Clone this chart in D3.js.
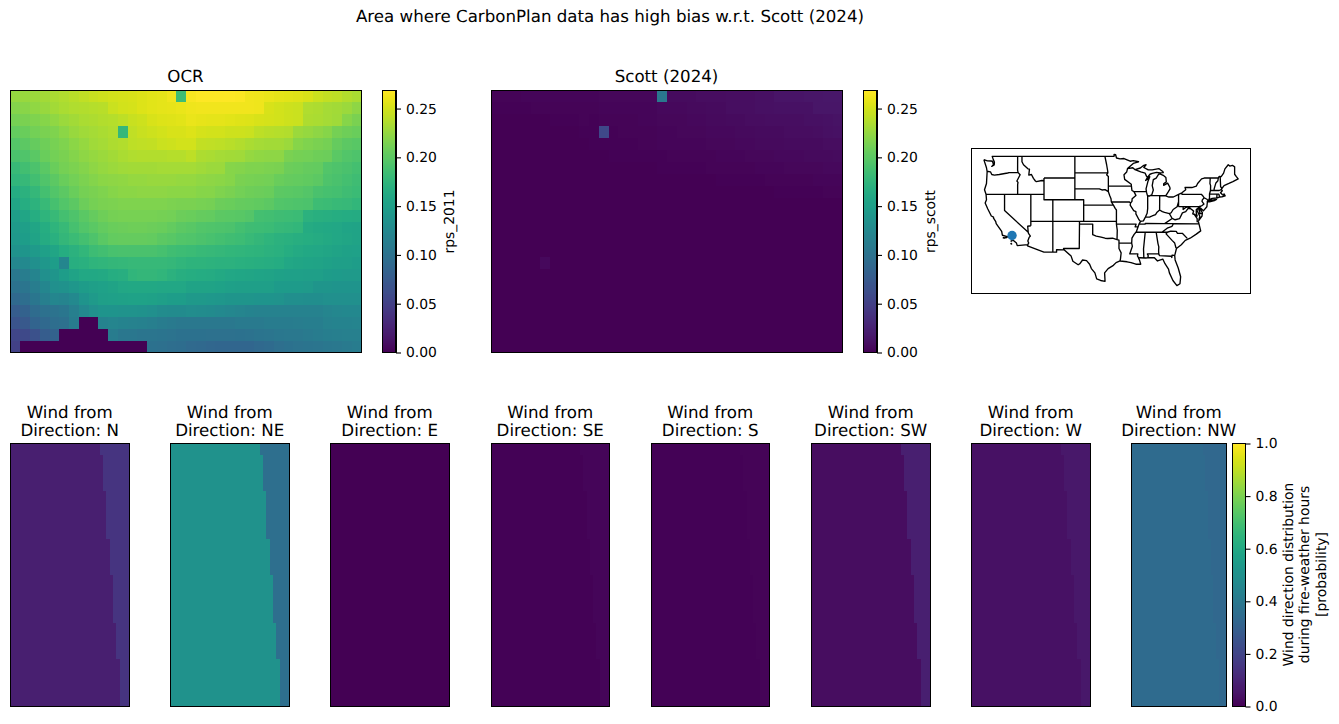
<!DOCTYPE html>
<html>
<head>
<meta charset="utf-8">
<script src="https://cdn.jsdelivr.net/npm/d3@7"></script>
<style>
  html, body { margin: 0; padding: 0; background: #fff; }
  text { font-family: "DejaVu Sans", sans-serif; fill: #000; text-rendering: geometricPrecision; }
</style>
</head>
<body>
<svg id="fig" width="1339" height="724"></svg>
<script>
// Return-period-style fields on a 22 x 36 grid, in thousandths.
const rps2011 = [
  [226,227,228,231,234,236,240,243,246,248,250,251,252,254,256,258,262,184,266,268,268,268,268,267,263,262,260,258,256,255,252,247,244,242,238,234],
  [219,221,224,227,231,234,236,238,239,240,247,250,251,254,256,258,259,260,262,263,263,263,263,263,263,262,252,250,248,247,236,235,232,231,228,223],
  [212,215,217,220,224,228,231,234,235,238,239,242,246,248,252,254,255,256,260,259,258,258,256,255,254,252,251,250,248,247,235,234,232,230,220,215],
  [204,207,211,215,217,222,227,230,232,234,236,179,243,246,248,250,252,252,254,251,250,250,248,248,247,242,240,239,238,228,226,223,220,212,209,207],
  [197,201,205,209,213,217,222,226,230,232,235,238,242,243,244,247,248,250,250,244,243,242,240,238,234,232,231,231,228,220,217,215,212,205,201,199],
  [191,195,200,207,211,215,219,223,226,228,231,234,236,238,238,238,239,239,242,235,234,232,231,230,226,224,223,223,215,212,211,209,208,200,196,193],
  [181,187,192,200,207,212,216,219,223,226,228,230,231,231,231,232,232,232,232,230,228,228,220,219,217,217,216,215,208,207,205,204,196,193,191,188],
  [176,180,187,195,201,207,211,216,219,222,223,224,226,226,227,227,227,226,226,224,223,222,220,215,213,212,211,207,205,204,203,201,193,191,188,185],
  [165,172,179,188,196,201,207,212,215,217,220,222,222,223,223,223,222,222,222,220,220,217,215,211,209,208,207,201,200,199,197,191,189,188,185,183],
  [158,166,173,181,189,196,201,208,212,215,216,217,217,217,217,217,216,215,215,213,212,208,207,205,204,203,201,196,195,193,192,184,183,181,180,177],
  [149,158,166,175,181,188,193,200,205,209,212,213,213,213,213,212,211,208,207,205,204,201,200,199,197,188,187,185,184,183,171,169,168,166,165,164],
  [145,150,158,166,175,181,189,196,200,204,207,208,209,209,208,207,204,201,199,196,195,193,192,188,185,184,183,180,179,177,164,162,161,160,157,156],
  [143,148,156,164,170,178,183,188,193,200,204,205,205,205,204,201,199,196,195,192,190,188,186,184,181,178,175,172,170,168,166,164,162,160,158,156],
  [137,140,145,152,158,166,171,177,184,187,190,191,191,191,191,189,186,184,183,181,180,179,177,176,175,174,172,170,166,163,161,160,158,156,154,153],
  [124,126,134,142,148,123,168,170,175,176,178,179,180,180,180,180,179,176,174,174,173,172,171,170,169,168,167,165,160,158,157,156,154,151,150,148],
  [107,113,121,134,140,148,156,161,161,162,166,168,176,178,178,176,172,168,166,165,164,162,160,159,158,157,156,154,152,152,151,150,147,146,145,145],
  [101,104,113,123,134,137,142,147,150,153,156,160,161,161,161,160,160,160,156,156,156,155,152,150,150,150,150,146,146,146,145,140,140,139,139,139],
  [91,96,105,115,123,121,126,139,145,150,152,154,155,155,154,150,148,148,144,144,143,142,140,140,140,139,139,138,133,133,132,132,134,134,134,134],
  [78,83,94,99,102,105,115,126,134,139,139,138,138,136,134,130,128,128,131,130,128,126,124,122,120,119,118,118,118,118,118,118,122,124,125,125],
  [70,74,86,91,96,98,112,0,0,120,122,120,118,117,115,112,110,108,108,108,107,107,107,110,110,110,112,112,112,113,114,114,118,120,120,121],
  [56,59,67,78,83,0,0,0,0,0,112,106,106,104,104,103,102,100,100,100,99,99,99,100,101,103,104,106,107,108,110,112,114,115,116,116],
  [52,0,0,0,0,0,0,0,0,0,0,0,0,0,100,98,96,95,92,91,89,88,88,88,88,91,93,97,100,102,103,104,106,108,110,112]
];
const rpsScott = [
  [3,3,3,4,4,4,4,4,4,4,4,5,5,5,5,5,5,107,8,8,8,9,9,9,10,10,10,11,11,14,14,14,15,15,16,16],
  [2,2,2,2,3,3,3,3,3,3,3,4,4,4,4,4,4,6,6,6,7,7,8,8,10,10,10,11,11,12,12,12,12,15,15,15],
  [1,1,1,1,1,1,2,2,2,3,2,3,3,3,3,4,4,5,5,5,6,6,7,7,8,8,9,9,10,10,10,10,11,11,12,13],
  [1,1,1,1,1,1,1,1,1,2,2,58,2,3,3,3,3,4,4,5,5,5,6,6,6,7,7,8,8,8,9,9,9,10,11,12],
  [0,0,0,0,1,1,1,1,1,1,2,2,2,2,2,3,3,4,4,4,4,4,5,5,5,6,6,7,7,7,8,8,8,8,9,9],
  [0,0,0,0,0,0,0,0,1,1,1,1,2,2,2,2,2,2,3,3,3,3,3,4,4,4,5,5,5,6,6,6,7,7,7,8],
  [0,0,0,0,0,0,0,0,0,0,0,0,1,1,1,1,1,2,2,2,2,2,3,3,3,3,3,4,4,4,5,5,5,5,6,6],
  [0,0,0,0,0,0,0,0,0,0,0,0,0,0,0,0,0,0,0,1,1,1,1,2,2,2,2,2,3,3,3,3,3,4,4,4],
  [0,0,0,0,0,0,0,0,0,0,0,0,0,0,0,0,0,0,0,0,0,0,0,1,1,1,1,1,1,2,2,2,2,2,3,3],
  [0,0,0,0,0,0,0,0,0,0,0,0,0,0,0,0,0,0,0,0,0,0,0,0,0,0,0,0,1,1,1,1,1,1,1,1],
  [0,0,0,0,0,0,0,0,0,0,0,0,0,0,0,0,0,0,0,0,0,0,0,0,0,0,0,0,0,0,0,0,1,1,1,1],
  [0,0,0,0,0,0,0,0,0,0,0,0,0,0,0,0,0,0,0,0,0,0,0,0,0,0,0,0,0,0,0,0,0,0,0,0],
  [0,0,0,0,0,0,0,0,0,0,0,0,0,0,0,0,0,0,0,0,0,0,0,0,0,0,0,0,0,0,0,0,0,0,0,0],
  [0,0,0,0,0,0,0,0,0,0,0,0,0,0,0,0,0,0,0,0,0,0,0,0,0,0,0,0,0,0,0,0,0,0,0,0],
  [0,0,0,0,0,6,0,0,0,0,0,0,0,0,0,0,0,0,0,0,0,0,0,0,0,0,0,0,0,0,0,0,0,0,0,0],
  [0,0,0,0,0,0,0,0,0,0,0,0,0,0,0,0,0,0,0,0,0,0,0,0,0,0,0,0,0,0,0,0,0,0,0,0],
  [0,0,0,0,0,0,0,0,0,0,0,0,0,0,0,0,0,0,0,0,0,0,0,0,0,0,0,0,0,0,0,0,0,0,0,0],
  [0,0,0,0,0,0,0,0,0,0,0,0,0,0,0,0,0,0,0,0,0,0,0,0,0,0,0,0,0,0,0,0,0,0,0,0],
  [0,0,0,0,0,0,0,0,0,0,0,0,0,0,0,0,0,0,0,0,0,0,0,0,0,0,0,0,0,0,0,0,0,0,0,0],
  [0,0,0,0,0,0,0,0,0,0,0,0,0,0,0,0,0,0,0,0,0,0,0,0,0,0,0,0,0,0,0,0,0,0,0,0],
  [0,0,0,0,0,0,0,0,0,0,0,0,0,0,0,0,0,0,0,0,0,0,0,0,0,0,0,0,0,0,0,0,0,0,0,0],
  [0,0,0,0,0,0,0,0,0,0,0,0,0,0,0,0,0,0,0,0,0,0,0,0,0,0,0,0,0,0,0,0,0,0,0,0]
];
const rpsMax = 0.2685;
const rpsTicks = [0, 0.05, 0.10, 0.15, 0.20, 0.25];

// Wind-direction probabilities: two climatology regions split along a per-row column.
const directions = ["N", "NE", "E", "SE", "S", "SW", "W", "NW"];
const windWest = [0.085, 0.51, 0.002, 0.005, 0.004, 0.035, 0.045, 0.345];
const windEast = [0.150, 0.36, 0.002, 0.015, 0.010, 0.085, 0.065, 0.335];
const windSplitColumn = [27,28,28,28,29,29,29,29,30,30,30,31,31,31,31,32,32,32,33,33,33,33];
const windTicks = [0, 0.2, 0.4, 0.6, 0.8, 1.0];

// Map location and lower-48 line work, as [lon, lat] vertices.
const siteLocation = [-118.3, 34.4];
const mapExtentLon = [-127.5, -64.2];
const mapExtentLat = [23.7, 50.45];
const nationOutline = [
  [-124.7,48.4],[-123.9,48.17],[-123.1,48.15],[-122.75,48.1],[-122.5,47.5],[-122.9,47.15],[-122.35,47.4],[-122.3,47.95],[-122.55,48.4],[-122.8,49],
  [-95.15,49],[-95.15,49.38],[-94.8,49.3],[-94.6,48.7],[-93.8,48.55],[-92.9,48.6],[-91.5,48.1],[-90.8,48.2],[-89.6,48],
  [-90.8,47.7],[-92.1,46.75],[-90.9,46.9],[-90.4,46.55],[-89.2,46.85],[-88.4,47.35],[-87.9,47.45],[-88.4,46.95],[-87.4,46.5],[-86.5,46.5],[-85,46.75],[-84.5,46.45],[-84.1,46.2],[-84,46],
  [-84.7,45.95],[-85.5,46.05],[-86.5,45.85],[-87,45.7],[-87.6,45.1],[-88,44.55],[-87.4,44.9],[-87.05,45.25],[-87.5,44.3],[-87.9,43],[-87.8,42.4],[-87.6,41.8],[-87.2,41.65],[-86.6,41.9],
  [-86.25,42.8],[-86.5,43.6],[-86.25,44.7],[-85.6,45],[-85,45.75],[-84.75,45.78],[-84,45.5],[-83.4,45.1],[-83.3,44.3],[-83.9,43.95],[-83.9,43.65],[-83,44.05],[-82.5,43.3],[-82.45,43],[-82.9,42.4],[-83.15,42.1],[-83.45,41.72],
  [-82.7,41.5],[-81.7,41.5],[-80.5,41.97],[-79.76,42.27],[-78.9,42.85],[-79.05,43.27],[-77.5,43.25],[-76.5,43.5],[-76.2,44],[-75.3,44.85],[-74.7,45],
  [-71.5,45.01],[-71.3,45.3],[-70.85,45.25],[-70.3,45.9],[-70,46.7],[-69.25,47.45],[-68.9,47.2],[-68.3,47.35],[-67.8,47.07],[-67.8,45.7],[-67.45,45.3],[-67,44.85],
  [-68.2,44.35],[-69.1,44],[-70.2,43.6],[-70.7,43.07],[-70.8,42.85],[-70.6,42.65],[-71,42.3],[-70.6,41.95],[-70.05,41.8],[-70.2,42.07],[-69.95,41.7],[-70.65,41.55],[-71.2,41.5],[-71.4,41.45],[-71.85,41.32],[-72.9,41.25],[-73.65,40.98],[-74,40.7],
  [-74,40.45],[-74.1,39.7],[-74.9,38.95],[-75.55,39.5],[-75.4,39],[-75.1,38.6],[-75.2,38],[-75.95,37.15],[-75.7,37.95],[-76.2,38.8],[-76,39.5],[-76.5,39.2],[-76.5,38.5],[-76.3,38],[-77,38.35],[-76.3,37.5],[-76.3,36.95],[-76,36.9],
  [-75.5,35.25],[-76.5,34.65],[-77.9,33.9],[-79,33.5],[-79.9,32.7],[-81,32],[-81.4,30.7],[-81.3,29.9],[-80.6,28.4],[-80.05,26.8],[-80.2,25.5],[-80.9,25.15],[-81.8,26.1],[-82.6,27.5],[-82.8,28.2],[-83.6,29.2],[-84.1,30.05],[-85.3,29.7],[-86,30.3],[-87.5,30.3],
  [-88,30.25],[-89.3,30.3],[-89.6,30.2],[-89.4,29.9],[-89.1,29.1],[-90.2,29.1],[-91.3,29.4],[-92.2,29.55],[-93.8,29.7],[-94.7,29.4],[-95.3,28.9],[-96.5,28.3],[-97.3,27.5],[-97.2,25.95],
  [-98.2,26.1],[-99.1,26.4],[-99.5,27.5],[-100.3,28.3],[-100.7,29.1],[-101.4,29.77],[-102.3,29.88],[-102.9,29.2],[-103.3,29],[-104.5,29.65],[-104.9,30.6],[-106.5,31.75],
  [-108.2,31.78],[-108.2,31.33],[-111.07,31.33],[-114.8,32.5],[-114.72,32.72],[-117.12,32.53],
  [-117.3,33],[-118.4,33.75],[-118.5,34.03],[-119.2,34.15],[-120.5,34.45],[-120.65,35.15],[-121.9,36.6],[-122,36.95],[-122.5,37.6],[-122.5,37.8],[-123,38],[-123.8,39.3],[-124.4,40.4],[-124.1,41],[-124.2,42],[-124.55,42.85],[-124.1,44],[-123.95,46.2],[-124.1,46.9],[-124.7,48.4]
];
const islands = [
  [[-74,40.6],[-73.5,40.6],[-72.4,40.85],[-71.9,41.05],[-72.6,40.98],[-73.7,40.85],[-74,40.6]],
  [[-119.9,34.05],[-119.5,34.03],[-119.9,33.98],[-119.9,34.05]],
  [[-120.4,34],[-120.05,34.02],[-120.1,33.9],[-120.4,34]],
  [[-118.6,33.47],[-118.35,33.4],[-118.5,33.35],[-118.6,33.47]],
  [[-118.6,33.03],[-118.4,32.85],[-118.5,32.82],[-118.6,33.03]]
];
const stateBorders = [
  [[-124,46.25],[-123.2,46.15],[-122.9,45.65],[-122.3,45.55],[-121.2,45.65],[-119.3,45.93],[-118.98,46],[-116.92,46]],
  [[-117.03,49],[-117.04,46.42],[-116.92,46],[-116.47,45.6],[-117.2,44.45],[-116.95,44.2],[-117.03,43.8],[-117.03,42]],
  [[-124.2,42],[-111.05,42]],
  [[-120,42],[-120,39],[-114.63,35],[-114.57,34.8],[-114.14,34.3],[-114.43,34.05],[-114.72,33.4],[-114.52,33.03],[-114.72,32.72]],
  [[-114.63,35],[-114.75,36.1],[-114.04,36.2]],
  [[-114.04,42],[-114.04,36.2]],
  [[-114.04,37],[-94.62,37]],
  [[-109.05,41],[-109.05,31.33]],
  [[-111.05,45],[-104.05,45],[-104.05,41],[-111.05,41],[-111.05,45]],
  [[-116.05,49],[-116.05,48],[-115.7,47.45],[-114.7,46.7],[-114.35,46.65],[-114.5,45.55],[-113.9,45.65],[-113.45,44.95],[-113,44.45],[-112.8,44.35],[-111.5,44.55],[-111.05,44.5]],
  [[-104.05,49],[-104.05,45]],
  [[-104.05,45.94],[-96.56,45.94]],
  [[-104.05,43],[-98.5,43],[-97.9,42.8],[-97.2,42.85],[-96.45,42.49]],
  [[-104.05,41],[-102.05,41],[-102.05,37]],
  [[-102.05,40],[-95.3,40]],
  [[-103,37],[-103,36.5],[-100,36.5],[-100,34.56],[-99.2,34.3],[-98.1,34.1],[-97.2,33.9],[-96.6,33.85],[-95.5,33.9],[-94.48,33.64],[-94.04,33.55],[-94.04,31.99],[-93.55,31.2],[-93.7,30.1],[-93.8,29.7]],
  [[-103,36.5],[-103.05,32],[-106.62,32],[-106.5,31.75]],
  [[-94.04,33.02],[-91.16,33]],
  [[-94.48,33.64],[-94.43,35.4],[-94.62,36.5],[-94.62,39.1],[-94.9,39.4],[-95.3,40],[-95.77,40.58],[-95.85,41.2],[-96.1,41.7],[-96.45,42.49],[-96.45,45.3],[-96.85,45.6],[-96.56,45.94],[-96.6,46.3],[-96.85,47.5],[-97.23,49]],
  [[-96.45,43.5],[-91.22,43.5]],
  [[-95.77,40.58],[-91.73,40.61],[-91.42,40.38]],
  [[-92.1,46.75],[-92.3,46.1],[-92.9,45.6],[-92.75,44.75],[-91.25,43.85],[-91.22,43.5],[-91.1,42.7],[-90.64,42.5],[-90.2,41.8],[-91.05,41.2],[-91.1,40.7],[-91.42,40.38],[-91.5,40],[-90.7,39],[-90.2,38.8],[-90.2,38.4],[-89.5,37.3],[-89.15,37],[-89.5,36.5],[-89.7,36],[-90.1,35.1],[-90.6,34.6],[-91.1,33.9],[-91.16,33],[-91,32.4],[-91.6,31],[-89.75,31],[-89.85,30.65],[-89.55,30.2]],
  [[-90.64,42.5],[-87.8,42.5]],
  [[-90.4,46.55],[-89.1,46.13],[-88.1,45.9],[-87.8,45.35],[-87.6,45.1]],
  [[-87.53,41.7],[-87.53,39.35],[-87.65,38.5],[-88.05,37.8]],
  [[-89.15,37],[-88.5,37.1],[-88.05,37.8],[-87.1,37.8],[-86.5,38],[-85.75,38.27],[-85.4,38.7],[-84.82,39.1],[-84.2,38.8],[-83.7,38.65],[-82.6,38.42],[-82.2,38.6],[-81.75,39.2],[-80.85,39.7],[-80.52,40.64]],
  [[-84.82,39.1],[-84.8,41.76]],
  [[-86.8,41.76],[-84.8,41.76],[-83.45,41.73]],
  [[-80.52,41.98],[-80.52,39.72]],
  [[-80.52,39.72],[-75.79,39.72]],
  [[-79.76,42.27],[-79.76,42],[-75.35,42],[-75.05,41.75],[-74.7,41.36],[-73.9,41]],
  [[-74.7,41.36],[-75.13,40.97],[-75.2,40.68],[-74.75,40.2],[-75.4,39.8]],
  [[-75.79,39.72],[-75.6,39.83],[-75.4,39.8]],
  [[-75.79,39.72],[-75.7,38.46],[-75.05,38.45]],
  [[-79.48,39.72],[-79.48,39.2],[-78.8,39.6],[-78.2,39.67],[-77.75,39.32],[-77.1,38.9],[-77.3,38.4],[-76.9,38.25],[-76.3,37.95]],
  [[-77.75,39.32],[-78.35,39.4],[-78.9,38.8],[-79.65,38.58],[-80.3,37.5],[-81.3,37.3],[-81.97,37.54],[-82.6,38.42]],
  [[-81.97,37.54],[-83.67,36.6],[-88.07,36.65],[-88.07,36.5],[-89.5,36.5]],
  [[-83.67,36.6],[-81.68,36.59],[-75.87,36.55]],
  [[-81.68,36.59],[-82,36.1],[-83.1,35.75],[-84.3,35]],
  [[-84.3,35],[-90.1,35]],
  [[-84.3,35],[-83.1,35],[-82.3,35.2],[-81.05,35.15],[-80.8,34.82],[-79.67,34.8],[-78.55,33.87]],
  [[-83.1,35],[-83.35,34.7],[-82,33.5],[-81.4,33],[-81.1,32.1]],
  [[-85.6,34.98],[-85.18,32.87],[-85,32.3],[-85.05,31.55],[-85,31]],
  [[-85,31],[-87.6,31],[-87.4,30.65],[-87.5,30.3]],
  [[-85,31],[-84.86,30.7],[-82.2,30.57],[-82.05,30.35],[-82,30.75],[-81.5,30.72]],
  [[-88.2,35],[-88.1,34.9],[-88.47,31.9],[-88.4,30.3]],
  [[-94.62,36.5],[-90.15,36.5],[-90.37,36],[-89.7,36]],
  [[-71.5,45.01],[-71.6,44.5],[-72.05,44.1],[-72.45,43],[-72.46,42.73]],
  [[-73.34,45.01],[-73.4,44],[-73.25,43.6],[-73.27,42.75],[-73.5,42.05],[-73.5,41.3],[-73.65,41]],
  [[-73.27,42.75],[-71.3,42.7],[-70.85,42.87]],
  [[-73.5,42.05],[-71.8,42.02],[-71.38,42.02],[-71.2,41.5]],
  [[-71.8,42.02],[-71.85,41.32]],
  [[-71.08,45.3],[-70.98,43.4],[-70.7,43.07]]
];

const svg = d3.select("#fig");
const rowIndex = d3.range(22);
const colIndex = d3.range(36);
const TICK = 5, PAD = 5, SPINE = 1.1;

function addFrame(x0, y0, x1, y1) {
  svg.append("rect").attr("x", x0).attr("y", y0)
    .attr("width", x1 - x0).attr("height", y1 - y0)
    .attr("fill", "none").attr("stroke", "#000").attr("stroke-width", SPINE)
    .attr("shape-rendering", "crispEdges");
}

function addGrid(box, fieldAt, colour) {
  const x = d3.scaleBand().domain(colIndex).range([box.x0, box.x1]);
  const y = d3.scaleBand().domain(rowIndex).range([box.y0, box.y1]);
  const g = svg.append("g").attr("shape-rendering", "crispEdges");
  rowIndex.forEach(r => {
    g.selectAll(null).data(colIndex).join("rect")
      .attr("x", c => x(c)).attr("y", y(r))
      .attr("width", x.bandwidth() + 0.5).attr("height", y.bandwidth() + 0.5)
      .attr("fill", c => colour(fieldAt(r, c)));
  });
  addFrame(box.x0, box.y0, box.x1, box.y1);
}

function addColorbar(box, domain, ticks, fmt, colour) {
  const y = d3.scaleLinear().domain(domain).range([box.y1, box.y0]);
  const steps = d3.range(256);
  const step = d3.scaleLinear().domain([0, 256]).range(domain);
  const g = svg.append("g").attr("shape-rendering", "crispEdges");
  g.selectAll("rect").data(steps).join("rect")
    .attr("x", box.x0).attr("width", box.x1 - box.x0)
    .attr("y", s => y(step(s + 1))).attr("height", s => y(step(s)) - y(step(s + 1)) + 0.5)
    .attr("fill", s => colour(step(s + 0.5)));
  addFrame(box.x0, box.y0, box.x1, box.y1);
  const axis = d3.axisRight(y).tickValues(ticks).tickFormat(d3.format(fmt))
    .tickSize(TICK).tickPadding(PAD);
  const a = svg.append("g").attr("transform", `translate(${box.x1},0)`).call(axis);
  a.select(".domain").remove();
  a.selectAll("line").attr("stroke", "#000").attr("stroke-width", SPINE);
  a.selectAll("text").attr("font-size", 13.9).attr("fill", "#000");
}

function addText(str, x, y, size, rotate) {
  const t = svg.append("text").text(str).attr("font-size", size).attr("text-anchor", "middle");
  if (rotate) t.attr("transform", `translate(${x},${y}) rotate(-90)`).attr("dominant-baseline", "middle");
  else t.attr("x", x).attr("y", y);
}

addText("Area where CarbonPlan data has high bias w.r.t. Scott (2024)", 610, 22, 16.67);

// Top row: the two rps fields with their colour bars.
const rpsColour = d3.scaleSequential(d3.interpolateViridis).domain([0, rpsMax]);
const topPanels = [
  { title: "OCR", label: "rps_2011", field: rps2011, x0: 10.5, x1: 361.5, bar: 382.5, labelX: 450 },
  { title: "Scott (2024)", label: "rps_scott", field: rpsScott, x0: 491.5, x1: 842.5, bar: 863.5, labelX: 931 }
];
topPanels.forEach(p => {
  const y0 = 90.5, y1 = 352.5;
  addGrid({ x0: p.x0, x1: p.x1, y0, y1 }, (r, c) => p.field[r][c] / 1000, rpsColour);
  addText(p.title, (p.x0 + p.x1) / 2 - 0.5, 82, 16.67);
  addColorbar({ x0: p.bar, x1: p.bar + 13.5, y0, y1 }, [0, rpsMax], rpsTicks, ".2f", rpsColour);
  addText(p.label, p.labelX, (y0 + y1) / 2, 13.9, true);
});

// Locator map in a plain lon/lat frame.
const mapBox = { x0: 971.5, x1: 1250.5, y0: 148.5, y1: 293.5 };
const lonScale = d3.scaleLinear().domain(mapExtentLon).range([mapBox.x0, mapBox.x1]);
const latScale = d3.scaleLinear().domain(mapExtentLat).range([mapBox.y1, mapBox.y0]);
const lonLat = d3.geoTransform({
  point(lon, lat) { this.stream.point(lonScale(lon), latScale(lat)); }
});
svg.append("path")
  .datum({ type: "MultiLineString", coordinates: [nationOutline, ...islands, ...stateBorders] })
  .attr("d", d3.geoPath(lonLat))
  .attr("fill", "none").attr("stroke", "#000").attr("stroke-width", 1.35).attr("stroke-linejoin", "round");
svg.append("circle")
  .attr("cx", lonScale(siteLocation[0])).attr("cy", latScale(siteLocation[1]))
  .attr("r", 4.7).attr("fill", "#1f77b4");
addFrame(mapBox.x0, mapBox.y0, mapBox.x1, mapBox.y1);

// Bottom row: one small panel per wind direction, sharing a 0-1 colour scale.
const windColour = d3.scaleSequential(d3.interpolateViridis).domain([0, 1]);
const windX = [[10.5,129.5],[170.5,289.5],[330.5,449.5],[491.5,609.5],[651.5,769.5],[811.5,930.5],[971.5,1090.5],[1131.5,1226.5]];
directions.forEach((dir, i) => {
  const [x0, x1] = windX[i];
  const y0 = 443.5, y1 = 706.5;
  addGrid({ x0, x1, y0, y1 }, (r, c) => c < windSplitColumn[r] ? windWest[i] : windEast[i], windColour);
  const cx = (x0 + x1) / 2 - 0.3;
  addText("Wind from", cx, 418.3, 16.67);
  addText(`Direction: ${dir}`, cx, 436, 16.67);
});
addColorbar({ x0: 1232.5, x1: 1245.5, y0: 443.5, y1: 706.5 }, [0, 1], windTicks, ".1f", windColour);
["Wind direction distribution", "during fire-weather hours", "[probability]"].forEach((line, i) => {
  addText(line, 1289 + i * 16.5, 574.5, 13.9, true);
});
</script>
</body>
</html>
